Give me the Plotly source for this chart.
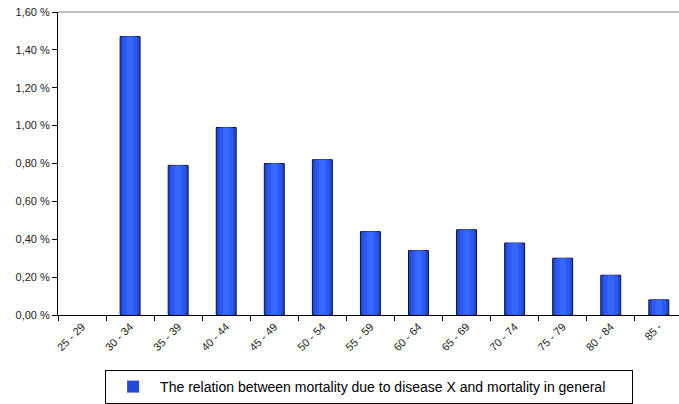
import plotly.graph_objects as go

categories = ["25 - 29", "30 - 34", "35 - 39", "40 - 44", "45 - 49", "50 - 54", "55 - 59",
              "60 - 64", "65 - 69", "70 - 74", "75 - 79", "80 - 84", "85 -"]
values = [0.0, 1.47, 0.79, 0.99, 0.80, 0.82, 0.44, 0.34, 0.45, 0.38, 0.30, 0.21, 0.08]
series_name = "The relation between mortality due to disease X and mortality in general"
y_ticks = [0.0, 0.2, 0.4, 0.6, 0.8, 1.0, 1.2, 1.4, 1.6]
y_tick_labels = ["0,00 %", "0,20 %", "0,40 %", "0,60 %", "0,80 %", "1,00 %", "1,20 %", "1,40 %", "1,60 %"]

FONT = "Liberation Sans, Arial, sans-serif"

edge_widths = [0 if v == 0 else 1 for v in values]

fig = go.Figure()
fig.add_trace(go.Bar(x=categories, y=values, name=series_name, width=0.415,
                     marker=dict(color="#2448d8", line=dict(color="#0a0f3a", width=edge_widths)),
                     showlegend=True, hoverinfo="y"))
fig.add_trace(go.Bar(x=categories, y=values, width=0.30,
                     marker=dict(color="#2c58f0", line=dict(width=0)),
                     showlegend=False, hoverinfo="skip"))
fig.add_trace(go.Bar(x=categories, y=values, width=0.14,
                     marker=dict(color="#3668ff", line=dict(width=0)),
                     showlegend=False, hoverinfo="skip"))

fig.update_layout(
    width=679, height=404,
    margin=dict(l=58, r=0, t=12, b=80),
    paper_bgcolor="white", plot_bgcolor="white",
    barmode="overlay",
    font=dict(family=FONT, size=11, color="black"),
    showlegend=True,
    legend=dict(x=0.501, y=-0.182, xanchor="center", yanchor="top",
                orientation="h", bordercolor="black", borderwidth=1,
                font=dict(family=FONT, size=14, color="black"),
                bgcolor="white", itemwidth=44, entrywidth=467, entrywidthmode="pixels"),
    xaxis=dict(type="category", range=[-0.5, 12.42], showgrid=False, automargin=False,
               showline=True, linecolor="black", linewidth=1,
               ticks="outside", ticklen=5, tickcolor="black", tickson="boundaries",
               tickangle=-45, tickfont=dict(family=FONT, size=11, color="#222222")),
    yaxis=dict(range=[0, 1.6], tickvals=y_ticks, ticktext=y_tick_labels,
               showgrid=False, zeroline=False, automargin=False,
               showline=True, linecolor="black", linewidth=1,
               ticks="outside", ticklen=5, tickcolor="black",
               tickfont=dict(family=FONT, size=11, color="#222222")),
    shapes=[dict(type="line", xref="paper", yref="paper", x0=0, x1=1, y0=1, y1=1,
                 line=dict(color="#808080", width=1))],
)

fig.write_html("out.html",
               config={"displayModeBar": False},
               post_script="document.body.style.margin='0px';document.body.style.overflow='hidden';")
